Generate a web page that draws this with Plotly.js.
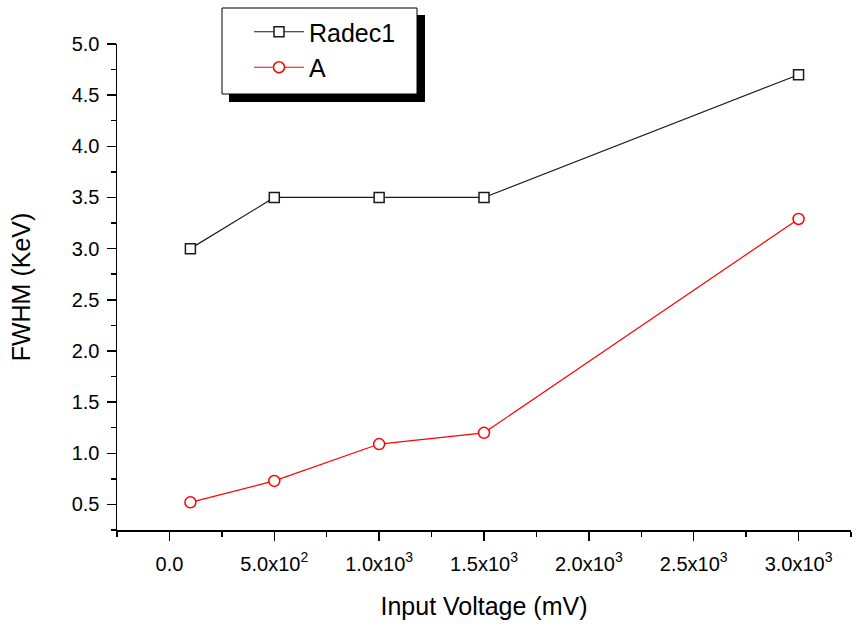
<!DOCTYPE html>
<html>
<head>
<meta charset="utf-8">
<script src="https://cdn.plot.ly/plotly-3.0.1.min.js"></script>
<style>html,body{margin:0;padding:0;background:#fff;}</style>
</head>
<body>
<div id="chart" style="width:858px;height:630px;"></div>
<script>
var voltage = [100, 500, 1000, 1500, 3000];
var radec1 = [3.0, 3.5, 3.5, 3.5, 4.7];
var seriesA = [0.52, 0.73, 1.09, 1.2, 3.29];
var xTickVals = [0, 500, 1000, 1500, 2000, 2500, 3000];
var xTickText = ['0.0', '5.0x10<sup>2</sup>', '1.0x10<sup>3</sup>', '1.5x10<sup>3</sup>', '2.0x10<sup>3</sup>', '2.5x10<sup>3</sup>', '3.0x10<sup>3</sup>'];

var font = 'Liberation Sans, Arial, sans-serif';

var traces = [
  {
    x: voltage, y: radec1, name: 'Radec1', type: 'scatter', mode: 'lines+markers', legendgroup: 'g1',
    line: {color: '#1a1a1a', width: 1.2},
    marker: {symbol: 'square', size: 10, color: '#ffffff', line: {color: '#1a1a1a', width: 1.5}}
  },
  {
    x: voltage, y: seriesA, name: 'A', type: 'scatter', mode: 'lines+markers', legendgroup: 'g2',
    line: {color: '#ff0000', width: 1.2},
    marker: {symbol: 'circle', size: 11, color: '#ffffff', line: {color: '#ff0000', width: 1.5}}
  }
];

var W = 734, H = 486, L = 117, T = 44;
function px(x) { return (x - L) / W; }
function py(y) { return (T + H - y) / H; }

var layout = {
  width: 858, height: 630,
  margin: {l: L, r: 858 - L - W, t: T, b: 630 - T - H},
  paper_bgcolor: '#ffffff', plot_bgcolor: '#ffffff',
  font: {family: font, color: '#000'},
  showlegend: true,
  legend: {
    x: px(249), y: py(9), xanchor: 'left', yanchor: 'top',
    bgcolor: 'rgba(0,0,0,0)', borderwidth: 0,
    itemwidth: 50, tracegroupgap: 6, traceorder: 'normal',
    font: {family: font, size: 25, color: '#000'}
  },
  shapes: [
    {type: 'rect', xref: 'paper', yref: 'paper', x0: px(229), x1: px(425), y0: py(102), y1: py(15),
     fillcolor: '#000', line: {width: 0}, layer: 'above'},
    {type: 'rect', xref: 'paper', yref: 'paper', x0: px(222), x1: px(417), y0: py(94), y1: py(8),
     fillcolor: '#fff', line: {color: '#000', width: 1}, layer: 'above'}
  ],
  xaxis: {
    range: [-250, 3250],
    showgrid: false, zeroline: false, showline: true, linecolor: '#000', linewidth: 1.5,
    ticks: 'outside', ticklen: 9, tickwidth: 1.5, tickcolor: '#000', ticklabelstandoff: 6,
    tickmode: 'array', tickvals: xTickVals, ticktext: xTickText,
    tickfont: {family: font, size: 20, color: '#000'},
    minor: {tick0: -250, dtick: 250, ticks: 'outside', ticklen: 5, tickwidth: 1.5, tickcolor: '#000', showgrid: false},
    title: {text: 'Input Voltage (mV)', font: {family: font, size: 25, color: '#000'}, standoff: 24}
  },
  yaxis: {
    range: [0.25, 5.0],
    showgrid: false, zeroline: false, showline: true, linecolor: '#000', linewidth: 1.5,
    ticks: 'outside', ticklen: 9, tickwidth: 1.5, tickcolor: '#000', ticklabelstandoff: 3,
    tick0: 0.5, dtick: 0.5, tickformat: '.1f',
    tickfont: {family: font, size: 20, color: '#000'},
    minor: {tick0: 0.25, dtick: 0.25, ticks: 'outside', ticklen: 5, tickwidth: 1.5, tickcolor: '#000', showgrid: false},
    title: {text: 'FWHM (KeV)', font: {family: font, size: 25, color: '#000'}, standoff: 34}
  }
};

Plotly.newPlot('chart', traces, layout, {displayModeBar: false, staticPlot: true});
</script>
</body>
</html>
